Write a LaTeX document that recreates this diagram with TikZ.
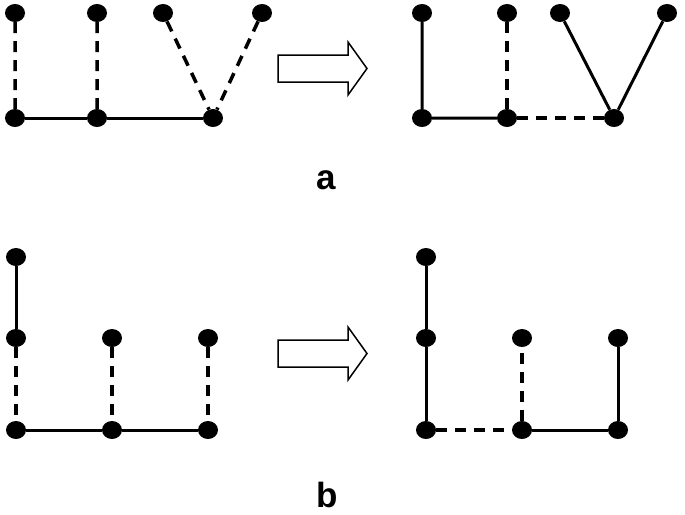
\documentclass[tikz,border=0pt]{standalone}
\usepackage{fontspec}
\setmainfont{Liberation Sans}
\usetikzlibrary{shapes.geometric}
\tikzset{dinh/.style={ellipse, fill=black, inner sep=0pt, minimum width=20pt, minimum height=18pt},
	lien/.style={line width=3pt},
	net/.style={line width=3.5pt, dash pattern=on 11pt off 8pt},
	muiten/.style={line width=1.5pt, fill=white, line join=miter}}
\begin{document}
\begin{tikzpicture}[x=1pt, y=-1pt, line join=round, font=\bfseries\fontsize{35}{40}\selectfont]
	\useasboundingbox (0,0) rectangle (685,514);
	% Hình a
	\foreach \n/\x/\y in {u1/15/13, u2/97/13, u3/163/13, u4/262/13, u5/15/118, u6/97/118, u7/213/118,
		v1/422/13, v2/507/13, v3/560/13, v4/667/13, v5/422/118, v6/507/118, v7/614/118}
		\node[dinh] (\n) at (\x,\y) {};
	\draw [net] (u1)--(u5) (u2)--(u6) (u3)--(u7) (u4)--(u7);
	\draw [lien] (u5)--(u6)--(u7);
	\draw [lien] (v1)--(v5)--(v6) (v3)--(v7)--(v4);
	\draw [net] (v2)--(v6)--(v7);
	\draw [muiten] (278,55)--(348,55)--(348,42)--(367,68.5)--(348,95)--(348,82)--(278,82)--cycle;
	\node [anchor=base] (nhana) at (326,189) {a};
	% Hình b
	\foreach \n/\x/\y in {p1/16/257, p2/16/338, p3/16/430, p4/112/338, p5/112/430, p6/208/338, p7/208/430,
		q1/426/257, q2/426/338, q3/426/430, q4/522/338, q5/522/430, q6/618/338, q7/618/430}
		\node[dinh] (\n) at (\x,\y) {};
	\draw [lien] (p1)--(p2) (p3)--(p5)--(p7);
	\draw [net] (p2)--(p3) (p4)--(p5) (p6)--(p7);
	\draw [lien] (q1)--(q2)--(q3) (q5)--(q7)--(q6);
	\draw [net] (q3)--(q5)--(q4);
	\draw [muiten] (278,340)--(348,340)--(348,327)--(367,353.5)--(348,380)--(348,367)--(278,367)--cycle;
	\node [anchor=base] (nhanb) at (327,507) {b};
\end{tikzpicture}
\end{document}
